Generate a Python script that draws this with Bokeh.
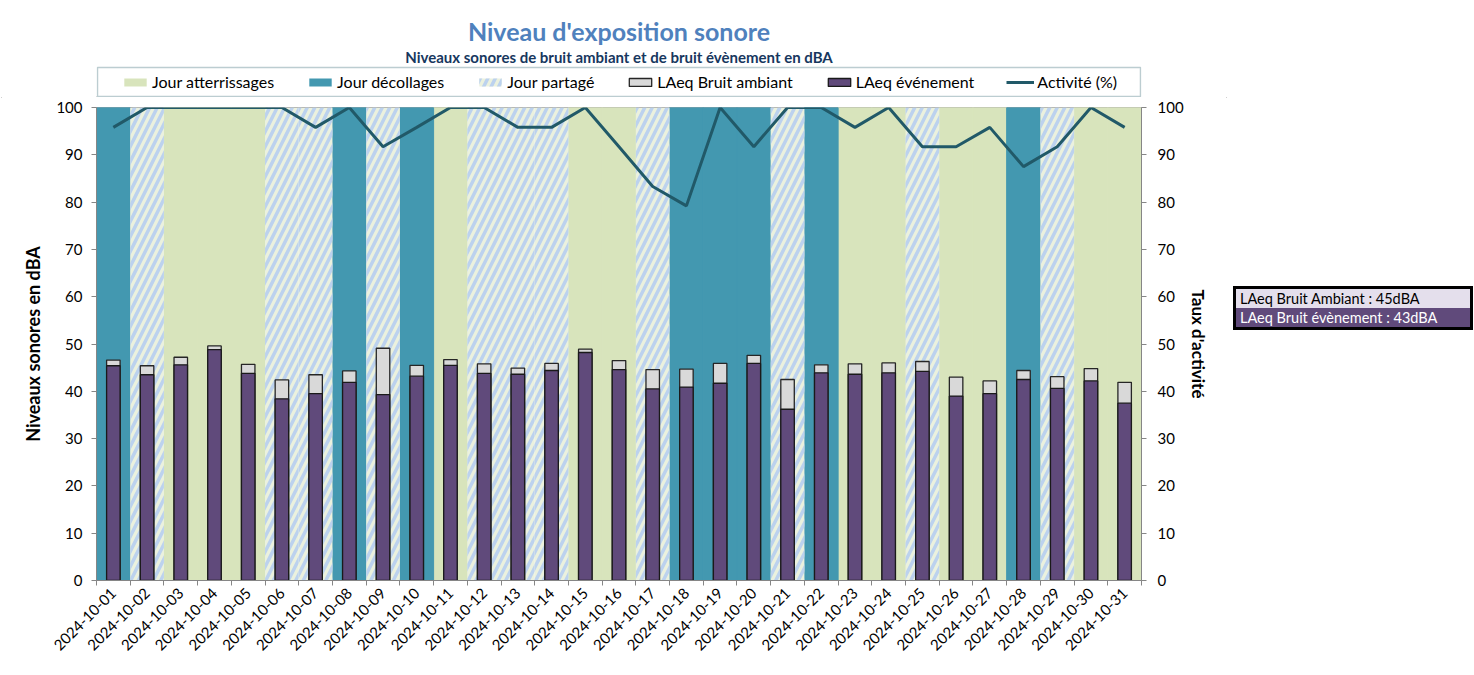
from math import pi
from bokeh.plotting import figure
from bokeh.models import (Range1d, LinearAxis, FixedTicker, CustomJSTickFormatter,
                          Legend, LegendItem, Title, Div, BoxAnnotation)
from bokeh.layouts import row, column
from bokeh.embed import file_html
from bokeh.resources import INLINE

FONT = "Lato"

# ---------------- data ----------------
dates = ["2024-10-01", "2024-10-02", "2024-10-03", "2024-10-04", "2024-10-05",
         "2024-10-06", "2024-10-07", "2024-10-08", "2024-10-09", "2024-10-10",
         "2024-10-11", "2024-10-12", "2024-10-13", "2024-10-14", "2024-10-15",
         "2024-10-16", "2024-10-17", "2024-10-18", "2024-10-19", "2024-10-20",
         "2024-10-21", "2024-10-22", "2024-10-23", "2024-10-24", "2024-10-25",
         "2024-10-26", "2024-10-27", "2024-10-28", "2024-10-29", "2024-10-30",
         "2024-10-31"]
# A = atterrissages, D = décollages, P = partagé
day_type = ["D", "P", "A", "A", "A", "P", "P", "D", "P", "D",
            "A", "P", "P", "P", "A", "A", "P", "D", "D", "D",
            "P", "D", "A", "A", "P", "A", "A", "D", "P", "A", "A"]
laeq_ambiant = [46.6, 45.4, 47.2, 49.6, 45.7, 42.4, 43.5, 44.3, 49.1, 45.5,
                46.7, 45.8, 44.9, 45.9, 48.9, 46.5, 44.6, 44.7, 45.9, 47.6,
                42.5, 45.6, 45.8, 46.0, 46.3, 43.0, 42.2, 44.4, 43.1, 44.8, 41.9]
laeq_evenement = [45.4, 43.5, 45.6, 48.8, 43.8, 38.4, 39.5, 41.9, 39.3, 43.2,
                  45.5, 43.8, 43.6, 44.4, 48.2, 44.6, 40.5, 40.9, 41.7, 45.9,
                  36.2, 43.9, 43.6, 43.9, 44.2, 39.0, 39.5, 42.5, 40.6, 42.2, 37.5]
activite = [95.8, 100, 100, 100, 100, 100, 95.8, 100, 91.7, 95.8,
            100, 100, 95.8, 95.8, 100, 91.7, 83.3, 79.2, 100, 91.7,
            100, 100, 95.8, 100, 91.7, 91.7, 95.8, 87.5, 91.7, 100, 95.8]
y_ticks = [0, 10, 20, 30, 40, 50, 60, 70, 80, 90, 100]
legend_labels = ["Jour atterrissages", "Jour décollages", "Jour partagé",
                 "LAeq Bruit ambiant", "LAeq événement", "Activité (%)"]
moy_ambiant = "LAeq Bruit Ambiant : 45dBA"
moy_evenement = "LAeq Bruit évènement : 43dBA"

# ---------------- styles ----------------
C_ATT = "#D8E4BC"
C_DEC = "#4398B0"
C_PAR = "#EBF1DE"
C_HATCH = "#BCD2EE"
C_AMB = "#D9D9D9"
C_EVT = "#604A7B"
C_ACT = "#215968"
AX = "#868686"
HATCH = dict(hatch_pattern="/", hatch_color=C_HATCH, hatch_weight=3.5, hatch_scale=15)

n = len(dates)
xc = [i + 0.5 for i in range(n)]
W = 1228
HEAD_H = 97
HEAD_TOP = 65

# ---------------- main figure ----------------
p = figure(width=W, height=673 - HEAD_H,
           x_range=Range1d(0, n), y_range=Range1d(0, 100),
           output_backend="svg", toolbar_location=None, title=None,
           min_border_left=96, min_border_right=87, min_border_bottom=93,
           min_border_top=107 - HEAD_H)
p.xgrid.visible = False
p.ygrid.visible = False
p.outline_line_color = "#A6A6A6"
p.background_fill_color = "white"

def xs_of(t):
    return [xc[i] for i in range(n) if day_type[i] == t]

p.vbar(x=xs_of("A"), top=100, bottom=0, width=1,
       fill_color=C_ATT, line_color=C_ATT, line_width=1)
p.vbar(x=xs_of("D"), top=100, bottom=0, width=1,
       fill_color=C_DEC, line_color=C_DEC, line_width=1)
p.vbar(x=xs_of("P"), top=100, bottom=0, width=1,
       fill_color=C_PAR, line_color=None, **HATCH)

p.vbar(x=xc, top=laeq_ambiant, bottom=0, width=0.4,
       fill_color=C_AMB, line_color="#262626", line_width=1.3)
p.vbar(x=xc, top=laeq_evenement, bottom=0, width=0.4,
       fill_color=C_EVT, line_color="#1A1A1A", line_width=1.3)

p.extra_y_ranges = {"act": Range1d(0, 100)}
p.line(x=xc, y=activite, line_color=C_ACT, line_width=3, y_range_name="act")

# axes
def style_y(ax, label, standoff, lab_standoff):
    ax.ticker = FixedTicker(ticks=y_ticks)
    ax.axis_label = label
    ax.axis_label_text_font = FONT
    ax.axis_label_text_font_size = "18px"
    ax.axis_label_text_font_style = "bold"
    ax.axis_label_text_color = "black"
    ax.axis_label_standoff = standoff
    ax.major_label_text_font = FONT
    ax.major_label_text_font_size = "15px"
    ax.major_label_text_color = "black"
    ax.major_label_standoff = lab_standoff
    ax.axis_line_color = AX
    ax.major_tick_line_color = AX
    ax.major_tick_out = 5
    ax.major_tick_in = 0
    ax.minor_tick_line_color = None

style_y(p.yaxis[0], "Niveaux sonores en dBA", 9, 9)
yr = LinearAxis(y_range_name="act")
style_y(yr, "Taux d'activité", 1, 11)
yr.axis_label_text_font_size = "17px"
p.add_layout(yr, "right")

xa = p.xaxis[0]
xa.ticker = FixedTicker(ticks=xc, minor_ticks=list(range(n + 1)))
xa.formatter = CustomJSTickFormatter(args=dict(labels=dates),
                                     code="return labels[Math.floor(tick)] || '';")
xa.major_label_orientation = pi / 4
xa.major_label_text_font = FONT
xa.major_label_text_font_size = "15px"
xa.major_label_text_color = "black"
xa.major_label_standoff = 5
xa.axis_line_color = AX
xa.major_tick_line_color = None
xa.major_tick_out = 0
xa.minor_tick_line_color = AX
xa.minor_tick_out = 5
xa.minor_tick_in = 0

# ---------------- header (titles + legend) ----------------
HF_W = W - 95 - 86
HF_H = HEAD_H - HEAD_TOP
h = figure(width=W, height=HEAD_H, x_range=Range1d(0, HF_W), y_range=Range1d(0, HF_H),
           x_axis_type=None, y_axis_type=None,
           output_backend="svg", toolbar_location=None, title=None,
           min_border_left=95, min_border_right=86, min_border_bottom=0,
           min_border_top=HEAD_TOP)
h.xgrid.visible = False
h.ygrid.visible = False
h.outline_line_color = None

# legend frame
h.add_layout(BoxAnnotation(left=1, right=HF_W - 1, bottom=1, top=30,
                           fill_color="white", fill_alpha=1,
                           line_color=C_ACT, line_width=1.5, level="underlay"))

# legend proxies (kept outside the visible range)
g_att = h.vbar(x=[-100], top=[-100], width=1, fill_color=C_ATT, line_color=None)
g_dec = h.vbar(x=[-100], top=[-100], width=1, fill_color=C_DEC, line_color=None)
g_par = h.vbar(x=[-100], top=[-100], width=1, fill_color=C_PAR, line_color=None, **HATCH)
g_amb = h.vbar(x=[-100], top=[-100], width=1, fill_color=C_AMB, line_color="#262626", line_width=1.3)
g_evt = h.vbar(x=[-100], top=[-100], width=1, fill_color=C_EVT, line_color="#1A1A1A", line_width=1.3)
g_act = h.line(x=[-100, -99], y=[-100, -100], line_color=C_ACT, line_width=3)
glyphs = [g_att, g_dec, g_par, g_amb, g_evt, g_act]

legend = Legend(items=[LegendItem(label=lab, renderers=[g])
                       for lab, g in zip(legend_labels, glyphs)],
                orientation="horizontal", location=(25, 6),
                border_line_color=None, background_fill_alpha=0,
                label_text_font=FONT, label_text_font_size="16px",
                label_text_color="black",
                glyph_width=28, glyph_height=10, label_height=17,
                label_standoff=3, spacing=32, padding=6, margin=0)
h.add_layout(legend, "center")

sub = Title(text="Niveaux sonores de bruit ambiant et de bruit évènement en dBA",
            align="center", text_font=FONT, text_font_size="15px",
            text_font_style="bold", text_color="#17375E", standoff=0)
h.add_layout(sub, "above")
tit = Title(text="Niveau d'exposition sonore", align="center", text_font=FONT,
            text_font_size="25px", text_font_style="bold", text_color="#4F81BD",
            standoff=0)
h.add_layout(tit, "above")

# ---------------- info box ----------------
html = (
    f'<div style="box-sizing:border-box; border:3px solid #000; width:240px; '
    f'font-family:Lato; font-size:14.5px; line-height:19px;">'
    f'<div style="background:#E4DFEC; color:#000; padding:0 4px;">{moy_ambiant}</div>'
    f'<div style="background:{C_EVT}; color:#fff; padding:0 4px;">{moy_evenement}</div>'
    f'</div>'
)
div = Div(text=html, width=240, height=50, margin=(286, 0, 0, 5))

chart = column(h, p, styles={"outline": "1px solid #BFBFBF", "outline-offset": "-2px"})
layout = row(chart, div)
open("out.html", "w").write(file_html(layout, INLINE))
